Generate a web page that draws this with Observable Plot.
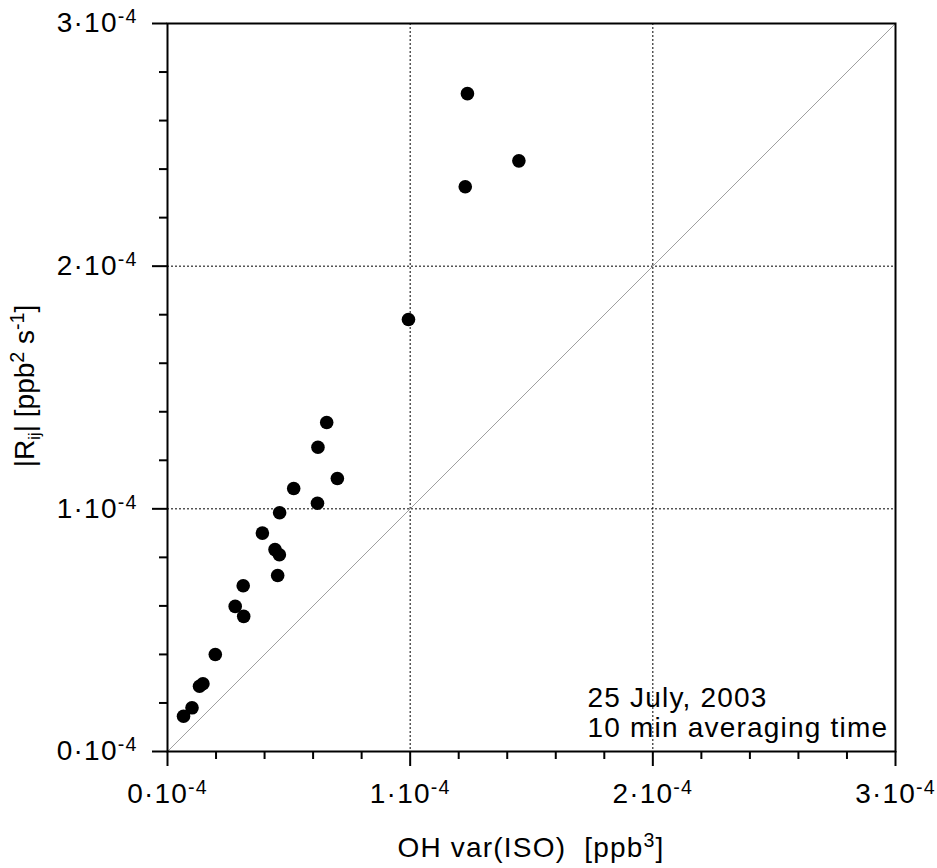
<!DOCTYPE html>
<html>
<head>
<meta charset="utf-8">
<script src="https://cdn.jsdelivr.net/npm/d3@7"></script>
<script src="https://cdn.jsdelivr.net/npm/@observablehq/plot@0.6"></script>
<style>
  html, body { margin: 0; padding: 0; background: white; }
  svg text { white-space: pre; letter-spacing: 1.2px; }
  svg text.ylab, svg text.ylab tspan { letter-spacing: 0px; }
</style>
</head>
<body>
<div id="chart"></div>
<script>
// OH variance of isoprene (x) vs |R_ij| (y), units of ppb^3 / ppb^2 s^-1
const ohVarISO = [0.066e-4, 0.101e-4, 0.132e-4, 0.146e-4, 0.197e-4, 0.279e-4, 0.314e-4, 0.312e-4,
  0.391e-4, 0.443e-4, 0.461e-4, 0.454e-4, 0.462e-4, 0.520e-4, 0.618e-4, 0.620e-4, 0.656e-4,
  0.700e-4, 0.993e-4, 1.227e-4, 1.236e-4, 1.448e-4];
const rijAbs = [0.145e-4, 0.180e-4, 0.269e-4, 0.279e-4, 0.400e-4, 0.598e-4, 0.557e-4, 0.683e-4,
  0.900e-4, 0.832e-4, 0.811e-4, 0.725e-4, 0.984e-4, 1.084e-4, 1.023e-4, 1.254e-4, 1.356e-4,
  1.125e-4, 1.780e-4, 2.327e-4, 2.711e-4, 2.434e-4];

const axisDomain = [0, 3e-4];
const majorTicks = [0, 1e-4, 2e-4, 3e-4];
const minorTicks = [0.2e-4, 0.4e-4, 0.6e-4, 0.8e-4, 1.2e-4, 1.4e-4, 1.6e-4, 1.8e-4,
  2.2e-4, 2.4e-4, 2.6e-4, 2.8e-4];
const gridLines = [1e-4, 2e-4];
const oneToOne = [0, 3e-4];
const annotationLines = ["25 July, 2003", "10 min averaging time"];

const points = ohVarISO.map((x, i) => ({x, y: rijAbs[i]}));
const FONT = "'Liberation Sans', Arial, sans-serif";
const FS = 28;
const tickFmt = d => `${Math.round(d * 1e4)}·10`;

const chart = Plot.plot({
  width: 937,
  height: 868,
  marginLeft: 167,
  marginRight: 42,
  marginTop: 23,
  marginBottom: 117,
  x: {domain: axisDomain},
  y: {domain: axisDomain},
  style: {fontFamily: FONT, fontSize: FS + "px", color: "black", background: "white"},
  marks: [
    Plot.ruleX(gridLines, {stroke: "black", strokeWidth: 1, strokeDasharray: "2,2"}),
    Plot.ruleY(gridLines, {stroke: "black", strokeWidth: 1, strokeDasharray: "2,2"}),
    Plot.line(oneToOne, {x: d => d, y: d => d, stroke: "#a0a0a0", strokeWidth: 1}),
    Plot.dot(points, {x: "x", y: "y", r: 6.8, fill: "black", stroke: "none"}),
    Plot.frame({stroke: "black", strokeWidth: 2}),
    Plot.axisX(majorTicks, {tickSize: 15, tickPadding: 17, strokeWidth: 2, tickFormat: tickFmt, label: null, fontSize: FS}),
    Plot.axisX(minorTicks, {tickSize: 8, strokeWidth: 2, tickFormat: () => "", label: null}),
    Plot.axisY(majorTicks, {tickSize: 15, tickPadding: 15, strokeWidth: 2, tickFormat: tickFmt, label: null, fontSize: FS}),
    Plot.axisY(minorTicks, {tickSize: 8, strokeWidth: 2, tickFormat: () => "", label: null}),
    Plot.text([annotationLines[0]], {text: d => d, frameAnchor: "bottom-left", dx: 420, dy: -53, textAnchor: "start", lineAnchor: "middle", fontSize: FS, fill: "black"}),
    Plot.text([annotationLines[1]], {text: d => d, frameAnchor: "bottom-left", dx: 420, dy: -23, textAnchor: "start", lineAnchor: "middle", fontSize: FS, fill: "black"})
  ]
});

document.getElementById("chart").appendChild(chart);

// superscript exponents on (non-empty) tick labels
const svg = d3.select(chart);
svg.selectAll('g[aria-label="x-axis tick label"] text, g[aria-label="y-axis tick label"] text')
  .filter(function() { return this.textContent.trim().length > 0; })
  .each(function() {
    d3.select(this).append("tspan").attr("dy", -9).attr("font-size", "0.7em").text("-4");
  });

// axis titles
const xt = svg.append("text")
  .attr("x", (167 + 895) / 2).attr("y", 857)
  .attr("text-anchor", "middle")
  .attr("font-family", FONT).attr("font-size", FS).attr("fill", "black");
xt.append("tspan").text("OH var(ISO)  [ppb");
xt.append("tspan").attr("dy", -10).attr("font-size", "0.7em").text("3");
xt.append("tspan").attr("dy", 10).text("]");

const yt = svg.append("text")
  .attr("class", "ylab")
  .attr("transform", "translate(34,386) rotate(-90)")
  .attr("text-anchor", "middle")
  .attr("font-family", FONT).attr("font-size", FS).attr("fill", "black");
yt.append("tspan").text("|R");
yt.append("tspan").attr("dy", 6).attr("font-size", "0.6em").text("ij");
yt.append("tspan").attr("dy", -6).text("| [ppb");
yt.append("tspan").attr("dy", -10).attr("font-size", "0.7em").text("2");
yt.append("tspan").attr("dy", 10).text(" s");
yt.append("tspan").attr("dy", -10).attr("font-size", "0.7em").text("-1");
yt.append("tspan").attr("dy", 10).text("]");
</script>
</body>
</html>
